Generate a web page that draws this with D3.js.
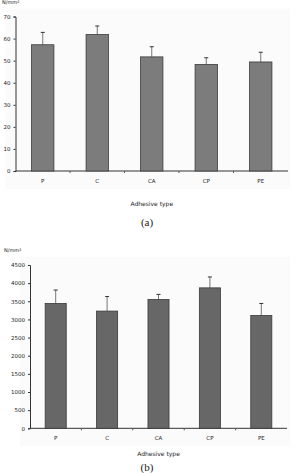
<!DOCTYPE html>
<html>
<meta charset="utf-8">
<style>
body { margin: 0; background: #fff; }
svg text { font-family: "DejaVu Sans", sans-serif; }
</style>
<body>
<svg width="296" height="473"></svg>
<script src="https://d3js.org/d3.v7.min.js"></script>
<script>
var categories = ["P", "C", "CA", "CP", "PE"];

// (a) values and upper error (mean + sd)
var valuesA = [57.2, 61.8, 51.7, 48.3, 49.4];
var errTopA = [62.8, 65.7, 56.3, 51.3, 53.8];
var ticksA = [0, 10, 20, 30, 40, 50, 60, 70];

// (b)
var valuesB = [3440, 3230, 3550, 3870, 3110];
var errTopB = [3810, 3630, 3690, 4170, 3440];
var ticksB = [0, 500, 1000, 1500, 2000, 2500, 3000, 3500, 4000, 4500];

var svg = d3.select("svg");

function drawChart(cfg) {
  var g = svg.append("g");

  g.append("rect")
      .attr("x", cfg.left - 10).attr("y", cfg.top - 8)
      .attr("width", 290 - cfg.left + 10).attr("height", cfg.bottom - cfg.top + 26)
      .attr("fill", "#fbfbfb");

  var x = d3.scaleBand().domain(categories).range([cfg.left, cfg.right])
      .paddingInner(0.59).paddingOuter(0.295);
  var y = d3.scaleLinear().domain([0, cfg.max]).range([cfg.bottom, cfg.top]);

  // y axis
  var yAxis = d3.axisLeft(y).tickValues(cfg.ticks).tickFormat(d3.format("d"))
      .tickSize(2).tickPadding(3);
  var ya = g.append("g").attr("transform", "translate(" + cfg.left + ",0)").call(yAxis);
  ya.select(".domain").attr("stroke", "#333");
  ya.selectAll(".tick line").attr("stroke", "#333");
  ya.selectAll("text").style("font-size", "5.5px").attr("fill", "#222");

  // x axis with ticks between categories
  var step = x.step();
  g.append("line")
      .attr("x1", cfg.left).attr("x2", cfg.right)
      .attr("y1", cfg.bottom).attr("y2", cfg.bottom)
      .attr("stroke", "#333");
  g.selectAll(".xtick").data(categories.slice(1)).enter().append("line")
      .attr("x1", function(d) { return x(d) - x.paddingInner() * step / 2; })
      .attr("x2", function(d) { return x(d) - x.paddingInner() * step / 2; })
      .attr("y1", cfg.bottom).attr("y2", cfg.bottom + 2)
      .attr("stroke", "#555");
  g.selectAll(".xlab").data(categories).enter().append("text")
      .attr("x", function(d) { return x(d) + x.bandwidth() / 2; })
      .attr("y", cfg.bottom + 12)
      .attr("text-anchor", "middle")
      .attr("fill", "#222")
      .style("font-size", "5.5px")
      .text(function(d) { return d; });

  // error bars (upper only)
  g.selectAll(".err").data(categories).enter().append("line")
      .attr("x1", function(d) { return x(d) + x.bandwidth() / 2; })
      .attr("x2", function(d) { return x(d) + x.bandwidth() / 2; })
      .attr("y1", function(d, i) { return y(cfg.values[i]); })
      .attr("y2", function(d, i) { return y(cfg.err[i]); })
      .attr("stroke", "#777").attr("stroke-width", 1);
  g.selectAll(".cap").data(categories).enter().append("line")
      .attr("x1", function(d) { return x(d) + x.bandwidth() / 2 - 2; })
      .attr("x2", function(d) { return x(d) + x.bandwidth() / 2 + 2; })
      .attr("y1", function(d, i) { return y(cfg.err[i]); })
      .attr("y2", function(d, i) { return y(cfg.err[i]); })
      .attr("stroke", "#333").attr("stroke-width", 1);

  // bars
  g.selectAll(".bar").data(categories).enter().append("rect")
      .attr("x", function(d) { return x(d); })
      .attr("width", x.bandwidth())
      .attr("y", function(d, i) { return y(cfg.values[i]); })
      .attr("height", function(d, i) { return cfg.bottom - y(cfg.values[i]); })
      .attr("fill", cfg.fill)
      .attr("stroke", "#3a3a3a").attr("stroke-width", 0.8);

  g.append("text")
      .attr("x", cfg.unitX).attr("y", cfg.unitY)
      .attr("fill", "#222")
      .style("font-size", "5px")
      .text("N/mm²");

  g.append("text")
      .attr("x", (cfg.left + cfg.right) / 2).attr("y", cfg.titleY)
      .attr("text-anchor", "middle")
      .attr("fill", "#222")
      .style("font-size", "6px")
      .text("Adhesive type");

  g.append("text")
      .attr("x", 147).attr("y", cfg.capY)
      .attr("text-anchor", "middle")
      .attr("fill", "#222")
      .style("font-family", "'Liberation Serif', serif")
      .style("font-size", "11px")
      .text(cfg.caption);
}

drawChart({
  values: valuesA, err: errTopA, ticks: ticksA, max: 70,
  left: 15.5, right: 288, top: 16.5, bottom: 171,
  fill: "#7c7c7c", unitX: 2, unitY: 4, titleY: 206, capY: 226, caption: "(a)"
});

drawChart({
  values: valuesB, err: errTopB, ticks: ticksB, max: 4500,
  left: 30, right: 287, top: 265, bottom: 428.3,
  fill: "#676767", unitX: 4, unitY: 252, titleY: 456, capY: 471, caption: "(b)"
});
</script>
</body>
</html>
